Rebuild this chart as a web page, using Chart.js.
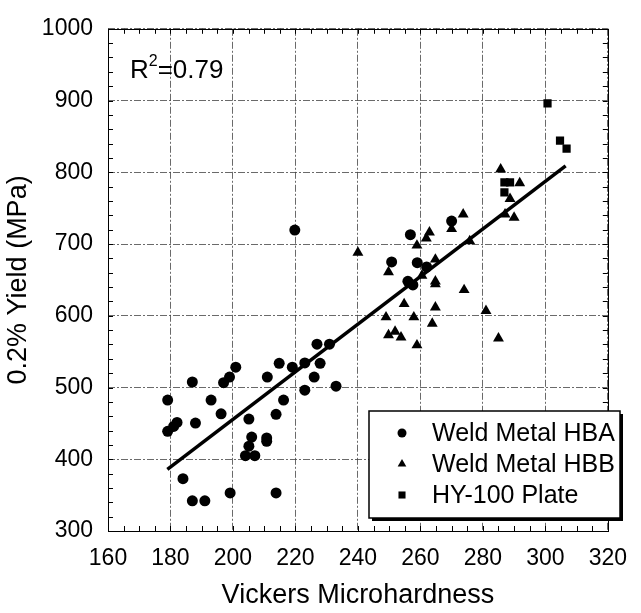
<!DOCTYPE html>
<html>
<head>
<meta charset="utf-8">
<script src="https://cdn.jsdelivr.net/npm/chart.js@4"></script>
<style>
  body { margin: 0; background: #fff; }
  #wrap { width: 641px; height: 613px; }
</style>
</head>
<body>
<div id="wrap"><canvas id="chart"></canvas></div>
<script>
// Weld Metal HBA (circles)
const hbaX = [179.1, 187, 197, 198.9, 200.9, 193, 196.2, 188, 182.1, 181, 179.1, 205.1, 206, 205.1, 204, 207,
    210.8, 210.8, 184, 187, 191, 199.1, 213.8, 213.8, 216.2, 211, 214.8, 219, 223, 226.9, 230.9, 227.9, 226,
    223, 233, 219.8, 256.8, 250.8, 259, 262, 256, 257.6, 270]
const hbaY = [482.5, 507.7, 506.7, 514.6, 528.3, 482.5, 463.3, 450.4, 451.3, 445.8, 438.9, 456, 431, 418.3, 405, 405,
    429.7, 425, 373, 342, 342, 353, 353, 462.7, 482.5, 514.6, 533.8, 528.3, 534.2, 560.4, 560.4, 533.8, 514.6,
    496.3, 501.8, 719.5, 713, 675, 674, 668, 648, 643, 732]

// Weld Metal HBB (triangles)
const hbbX = [240, 258.9, 249.8, 254.8, 249, 257.9, 249.8, 251.9, 253.8, 258.9, 261.9, 262.9, 264.8, 260.5, 264.8,
    264.8, 274, 264.8, 263.8, 285.7, 291.8, 288.7, 287.1, 290, 273.7, 270, 275.8, 281, 285]
const hbbY = [688, 698, 661, 616.5, 598, 598, 573, 578, 570, 559, 708, 716.4, 678.5, 656, 648,
    644, 636, 611.8, 589, 804, 785, 763, 741.5, 737, 741.5, 721, 704, 607, 568.6]

// HY-100 Plate (squares)
const plateX = [286.9, 288.7, 286.9, 300.7, 304.7, 306.8]
const plateY = [786, 786, 772, 896, 844, 833]

// fitted line end points
const fitX = [179, 306.5]
const fitY = [386, 809]

const xTicks = [160, 180, 200, 220, 240, 260, 280, 300, 320]
const yTicks = [300, 400, 500, 600, 700, 800, 900, 1000]

const seriesNames = ['Weld Metal HBA', 'Weld Metal HBB', 'HY-100 Plate']
const r2Text = '0.79'

const FONT = '"Liberation Sans", Arial, sans-serif'

const toPoints = (xs, ys) => xs.map((x, i) => ({ x: x, y: ys[i] }))

const frameAndTicks = {
    id: 'frameAndTicks',
    afterDatasetsDraw(chart) {
        const c = chart.ctx
        const { left, right, top, bottom } = chart.chartArea
        const xs = chart.scales.x, ys = chart.scales.y
        c.save()
        c.strokeStyle = '#000'
        c.lineWidth = 1
        // minor ticks every 5 on x, every 20 on y
        for (let v = xTicks[0]; v <= xTicks[xTicks.length - 1]; v += 5) {
            const px = Math.round(xs.getPixelForValue(v)) + 0.5
            c.beginPath()
            c.moveTo(px, bottom); c.lineTo(px, bottom - 5)
            c.moveTo(px, top); c.lineTo(px, top + 5)
            c.stroke()
        }
        for (let v = yTicks[0]; v <= yTicks[yTicks.length - 1]; v += 20) {
            const py = Math.round(ys.getPixelForValue(v)) + 0.5
            c.beginPath()
            c.moveTo(left, py); c.lineTo(left + 5, py)
            c.moveTo(right, py); c.lineTo(right - 5, py)
            c.stroke()
        }
        c.strokeRect(Math.round(left) + 0.5, Math.round(top) + 0.5, Math.round(right - left), Math.round(bottom - top))
        c.restore()
    },
    afterDraw(chart) {
        const c = chart.ctx
        c.save()
        // R^2 label
        c.fillStyle = '#000'
        c.textBaseline = 'alphabetic'
        c.font = '26px ' + FONT
        let x = 130
        c.fillText('R', x, 78)
        x += c.measureText('R').width
        c.font = '16px ' + FONT
        c.fillText('2', x, 66)
        x += c.measureText('2').width
        c.font = '26px ' + FONT
        c.fillText('=' + r2Text, x, 78)

        // legend box with drop shadow
        const bx = 369, by = 411, bw = 251, bh = 107
        c.fillStyle = '#000'
        c.fillRect(bx + 3, by + 3, bw, bh)
        c.fillStyle = '#fff'
        c.fillRect(bx, by, bw, bh)
        c.lineWidth = 1.5
        c.strokeStyle = '#000'
        c.strokeRect(bx, by, bw, bh)
        c.font = '25px ' + FONT
        c.textBaseline = 'middle'
        const styles = ['circle', 'triangle', 'rect']
        const sizes = [4.5, 5, 5]
        for (let i = 0; i < 3; i++) {
            const cy = by + 22 + i * 31
            c.fillStyle = '#000'
            Chart.helpers.drawPoint(c, { pointStyle: styles[i], radius: sizes[i], rotation: 0, borderWidth: 0 }, bx + 33, cy)
            c.fillText(seriesNames[i], bx + 63, cy + 1)
        }
        c.restore()
    }
}

const ctx = document.getElementById('chart').getContext('2d')

const data = {
    datasets: [
        {
            label: seriesNames[0],
            data: toPoints(hbaX, hbaY),
            pointStyle: 'circle',
            pointRadius: 5.5,
            backgroundColor: '#000',
            borderColor: '#000',
            borderWidth: 0
        },
        {
            label: seriesNames[1],
            data: toPoints(hbbX, hbbY),
            pointStyle: 'triangle',
            pointRadius: 6.3,
            backgroundColor: '#000',
            borderColor: '#000',
            borderWidth: 0
        },
        {
            label: seriesNames[2],
            data: toPoints(plateX, plateY),
            pointStyle: 'rect',
            pointRadius: 5.8,
            backgroundColor: '#000',
            borderColor: '#000',
            borderWidth: 0
        },
        {
            label: 'fit',
            type: 'line',
            data: toPoints(fitX, fitY),
            borderColor: '#000',
            borderWidth: 3.5,
            pointRadius: 0,
            fill: false
        }
    ]
}

const config = {
    type: 'scatter',
    data: data,
    options: {
        responsive: true,
        maintainAspectRatio: false,
        animation: false,
        devicePixelRatio: 1,
        layout: {
            padding: { top: 22, right: 25, left: 0, bottom: 0 }
        },
        plugins: {
            legend: { display: false },
            tooltip: { enabled: false }
        },
        scales: {
            x: {
                type: 'linear',
                min: xTicks[0],
                max: xTicks[xTicks.length - 1],
                afterBuildTicks: (scale) => { scale.ticks = xTicks.map(v => ({ value: v })) },
                afterFit: (scale) => { scale.height = 82 },
                grid: { color: '#444', lineWidth: 0.8, drawTicks: false },
                border: { display: false, dash: [7, 2, 2, 2] },
                ticks: {
                    color: '#000',
                    padding: 14,
                    callback: (v) => String(v),
                    font: { family: FONT, size: 23 }
                },
                title: {
                    display: true,
                    text: 'Vickers Microhardness',
                    color: '#000',
                    padding: { top: 0, bottom: 1 },
                    font: { family: FONT, size: 27 }
                }
            },
            y: {
                type: 'linear',
                min: yTicks[0],
                max: yTicks[yTicks.length - 1],
                afterBuildTicks: (scale) => { scale.ticks = yTicks.map(v => ({ value: v })) },
                afterFit: (scale) => { scale.width = 108 },
                grid: { color: '#444', lineWidth: 0.8, drawTicks: false },
                border: { display: false, dash: [7, 2, 2, 2] },
                ticks: {
                    color: '#000',
                    padding: 15,
                    callback: (v) => String(v),
                    font: { family: FONT, size: 23 }
                },
                title: {
                    display: true,
                    text: '0.2% Yield (MPa)',
                    color: '#000',
                    padding: { top: 2, bottom: 0 },
                    font: { family: FONT, size: 27 }
                }
            }
        }
    },
    plugins: [frameAndTicks]
}

window.yieldChart = new Chart(ctx, config)
</script>
</body>
</html>
